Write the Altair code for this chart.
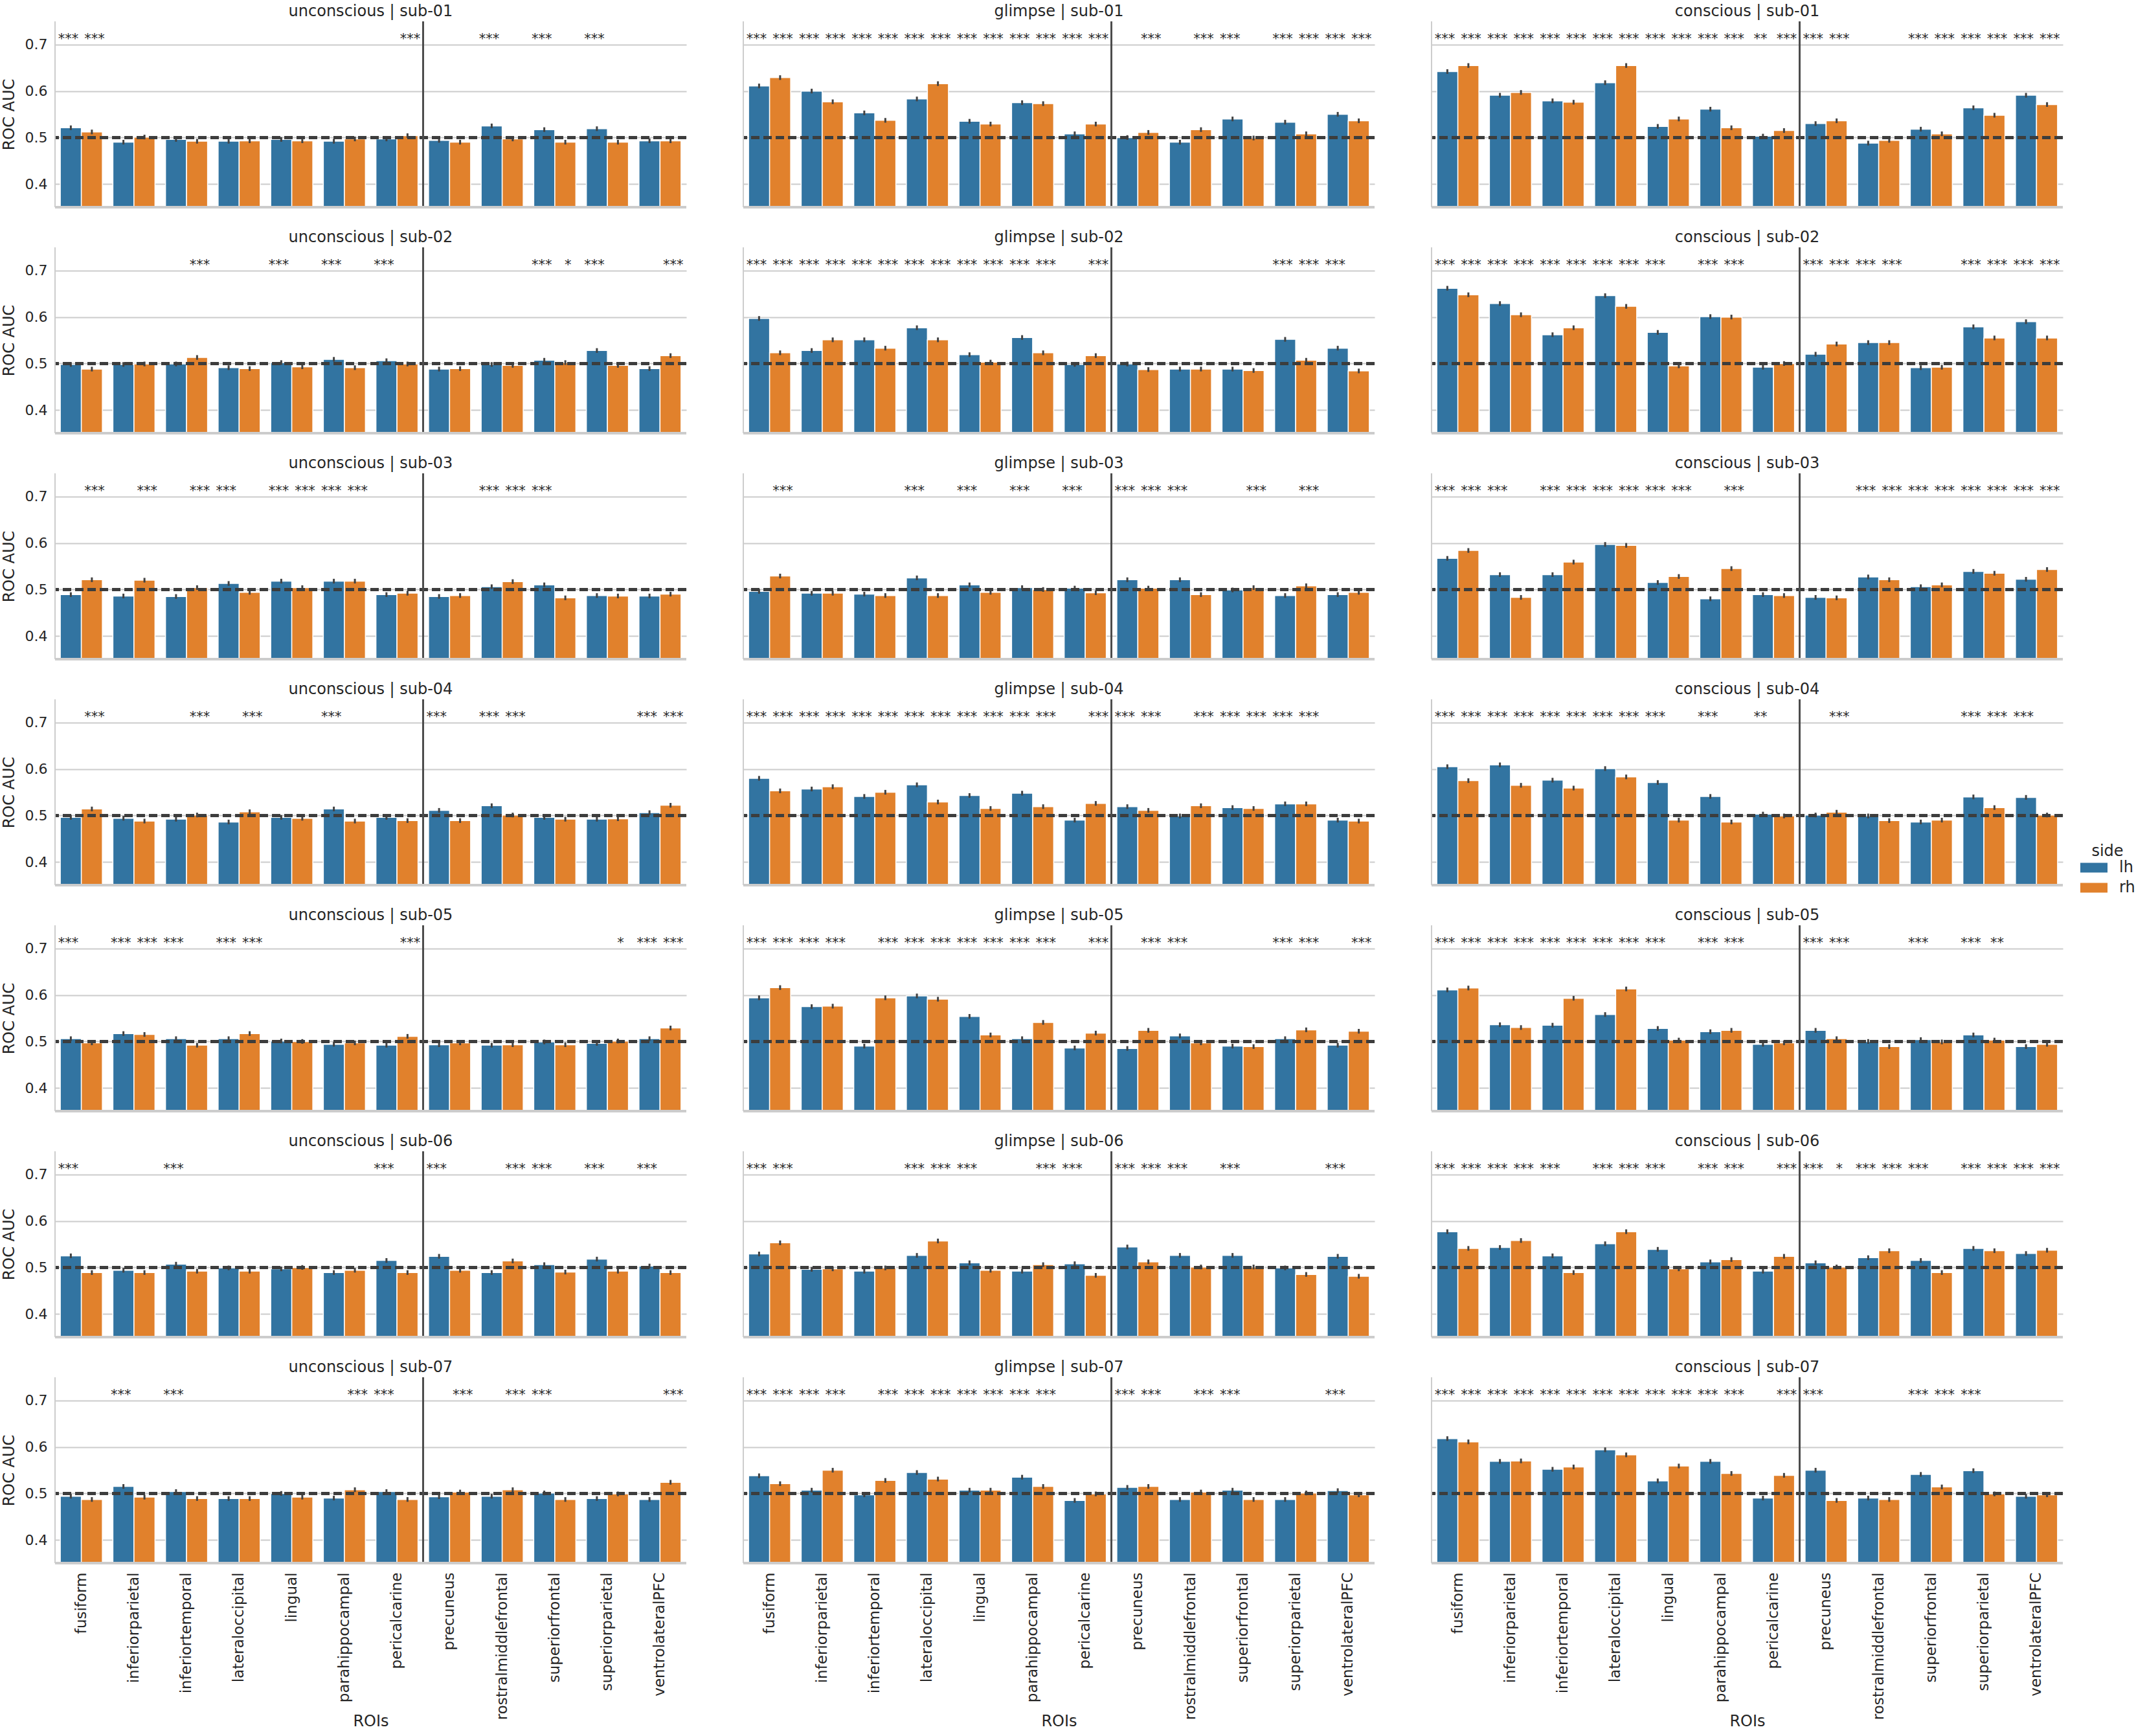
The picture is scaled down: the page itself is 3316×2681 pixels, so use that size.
import altair as alt
import pandas as pd

ROIS = ["fusiform", "inferiorparietal", "inferiortemporal", "lateraloccipital",
        "lingual", "parahippocampal", "pericalcarine", "precuneus",
        "rostralmiddlefrontal", "superiorfrontal", "superiorparietal",
        "ventrolateralPFC"]
CONDITIONS = ["unconscious", "glimpse", "conscious"]
SUBJECTS = ["sub-01", "sub-02", "sub-03", "sub-04", "sub-05", "sub-06", "sub-07"]
SIDES = ["lh", "rh"]
COLORS = ["#3274a1", "#e1812c"]
ERR = 0.005

# ROC AUC per subject (rows) and ROI (columns)
unconscious_lh = [
    [0.521, 0.490, 0.496, 0.492, 0.496, 0.492, 0.497, 0.494, 0.525, 0.517, 0.519, 0.493],
    [0.498, 0.498, 0.499, 0.491, 0.502, 0.509, 0.506, 0.488, 0.498, 0.507, 0.528, 0.489],
    [0.489, 0.486, 0.485, 0.513, 0.518, 0.518, 0.489, 0.485, 0.506, 0.510, 0.487, 0.486],
    [0.496, 0.494, 0.492, 0.486, 0.496, 0.514, 0.496, 0.511, 0.521, 0.496, 0.492, 0.506],
    [0.506, 0.517, 0.506, 0.506, 0.501, 0.494, 0.492, 0.493, 0.492, 0.499, 0.496, 0.506],
    [0.525, 0.494, 0.507, 0.499, 0.497, 0.489, 0.515, 0.524, 0.489, 0.506, 0.518, 0.503],
    [0.494, 0.515, 0.504, 0.489, 0.500, 0.490, 0.504, 0.493, 0.494, 0.501, 0.489, 0.487],
]
unconscious_rh = [
    [0.512, 0.501, 0.492, 0.493, 0.493, 0.497, 0.504, 0.490, 0.497, 0.490, 0.490, 0.493],
    [0.488, 0.499, 0.513, 0.489, 0.493, 0.491, 0.499, 0.489, 0.496, 0.502, 0.496, 0.517],
    [0.521, 0.520, 0.504, 0.494, 0.504, 0.518, 0.492, 0.487, 0.517, 0.482, 0.486, 0.490],
    [0.514, 0.488, 0.501, 0.508, 0.494, 0.488, 0.489, 0.489, 0.501, 0.492, 0.493, 0.522],
    [0.497, 0.515, 0.492, 0.517, 0.500, 0.497, 0.511, 0.497, 0.493, 0.493, 0.501, 0.529],
    [0.489, 0.489, 0.492, 0.492, 0.500, 0.494, 0.489, 0.494, 0.514, 0.490, 0.492, 0.489],
    [0.487, 0.492, 0.489, 0.489, 0.492, 0.508, 0.487, 0.503, 0.508, 0.487, 0.499, 0.524],
]
glimpse_lh = [
    [0.611, 0.600, 0.553, 0.583, 0.535, 0.575, 0.508, 0.500, 0.490, 0.540, 0.533, 0.550],
    [0.597, 0.528, 0.551, 0.577, 0.519, 0.556, 0.498, 0.499, 0.488, 0.488, 0.552, 0.533],
    [0.496, 0.492, 0.490, 0.525, 0.510, 0.504, 0.503, 0.521, 0.521, 0.499, 0.487, 0.489],
    [0.580, 0.557, 0.541, 0.566, 0.543, 0.548, 0.490, 0.519, 0.499, 0.517, 0.525, 0.490],
    [0.594, 0.575, 0.490, 0.598, 0.554, 0.506, 0.486, 0.485, 0.512, 0.490, 0.506, 0.492],
    [0.529, 0.496, 0.492, 0.526, 0.510, 0.492, 0.508, 0.544, 0.526, 0.526, 0.499, 0.524],
    [0.538, 0.507, 0.497, 0.545, 0.507, 0.535, 0.485, 0.513, 0.487, 0.507, 0.487, 0.506],
]
glimpse_rh = [
    [0.629, 0.577, 0.537, 0.616, 0.529, 0.573, 0.529, 0.511, 0.517, 0.499, 0.508, 0.536],
    [0.523, 0.551, 0.533, 0.551, 0.503, 0.523, 0.517, 0.487, 0.488, 0.485, 0.507, 0.484],
    [0.529, 0.492, 0.487, 0.487, 0.494, 0.500, 0.493, 0.503, 0.489, 0.504, 0.508, 0.494],
    [0.553, 0.562, 0.550, 0.529, 0.515, 0.519, 0.526, 0.511, 0.521, 0.515, 0.525, 0.488],
    [0.616, 0.576, 0.594, 0.591, 0.514, 0.541, 0.518, 0.524, 0.497, 0.489, 0.525, 0.522],
    [0.553, 0.497, 0.499, 0.557, 0.494, 0.506, 0.483, 0.512, 0.501, 0.501, 0.485, 0.481],
    [0.521, 0.550, 0.528, 0.531, 0.507, 0.515, 0.499, 0.515, 0.503, 0.487, 0.501, 0.497],
]
conscious_lh = [
    [0.642, 0.591, 0.579, 0.618, 0.524, 0.561, 0.503, 0.530, 0.488, 0.518, 0.564, 0.591],
    [0.662, 0.629, 0.562, 0.646, 0.567, 0.601, 0.492, 0.520, 0.545, 0.491, 0.579, 0.590],
    [0.567, 0.532, 0.532, 0.597, 0.515, 0.480, 0.489, 0.483, 0.527, 0.506, 0.539, 0.522],
    [0.605, 0.609, 0.576, 0.601, 0.571, 0.541, 0.503, 0.501, 0.499, 0.486, 0.540, 0.539],
    [0.611, 0.536, 0.535, 0.558, 0.528, 0.521, 0.494, 0.524, 0.500, 0.504, 0.514, 0.489],
    [0.577, 0.543, 0.525, 0.551, 0.539, 0.512, 0.492, 0.510, 0.521, 0.515, 0.541, 0.530],
    [0.618, 0.569, 0.552, 0.594, 0.527, 0.569, 0.490, 0.550, 0.490, 0.541, 0.549, 0.494],
]
conscious_rh = [
    [0.655, 0.597, 0.576, 0.655, 0.540, 0.521, 0.515, 0.536, 0.494, 0.508, 0.548, 0.571],
    [0.648, 0.605, 0.577, 0.623, 0.495, 0.600, 0.500, 0.542, 0.545, 0.492, 0.555, 0.555],
    [0.584, 0.483, 0.559, 0.595, 0.528, 0.545, 0.487, 0.482, 0.521, 0.510, 0.535, 0.543],
    [0.575, 0.565, 0.559, 0.583, 0.490, 0.486, 0.499, 0.507, 0.489, 0.490, 0.517, 0.501],
    [0.615, 0.530, 0.593, 0.613, 0.503, 0.524, 0.497, 0.506, 0.489, 0.499, 0.503, 0.494],
    [0.541, 0.558, 0.489, 0.577, 0.497, 0.517, 0.524, 0.501, 0.536, 0.489, 0.536, 0.537],
    [0.611, 0.570, 0.557, 0.583, 0.559, 0.543, 0.539, 0.485, 0.487, 0.514, 0.499, 0.497],
]

# significance labels
S, D, O, N = "***", "**", "*", ""
unconscious_lh_stars = [
    [S, N, N, N, N, N, N, N, S, S, S, N],
    [N, N, N, N, S, S, S, N, N, S, S, N],
    [N, N, N, S, S, S, N, N, S, S, N, N],
    [N, N, N, N, N, S, N, S, S, N, N, S],
    [S, S, S, S, N, N, N, N, N, N, N, S],
    [S, N, S, N, N, N, S, S, N, S, S, S],
    [N, S, S, N, N, N, S, N, N, S, N, N],
]
unconscious_rh_stars = [
    [S, N, N, N, N, N, S, N, N, N, N, N],
    [N, N, S, N, N, N, N, N, N, O, N, S],
    [S, S, S, N, S, S, N, N, S, N, N, N],
    [S, N, S, S, N, N, N, N, S, N, N, S],
    [N, S, N, S, N, N, S, N, N, N, O, S],
    [N, N, N, N, N, N, N, N, S, N, N, N],
    [N, N, N, N, N, S, N, S, S, N, N, S],
]
glimpse_lh_stars = [
    [S, S, S, S, S, S, S, N, N, S, S, S],
    [S, S, S, S, S, S, N, N, N, N, S, S],
    [N, N, N, S, S, S, S, S, S, N, N, N],
    [S, S, S, S, S, S, N, S, N, S, S, N],
    [S, S, N, S, S, S, N, N, S, N, S, N],
    [S, N, N, S, S, N, S, S, S, S, N, S],
    [S, S, N, S, S, S, N, S, N, S, N, S],
]
glimpse_rh_stars = [
    [S, S, S, S, S, S, S, S, S, N, S, S],
    [S, S, S, S, S, S, S, N, N, N, S, N],
    [S, N, N, N, N, N, N, S, N, S, S, N],
    [S, S, S, S, S, S, S, S, S, S, S, N],
    [S, S, S, S, S, S, S, S, N, N, S, S],
    [S, N, N, S, N, S, N, S, N, N, N, N],
    [S, S, S, S, S, S, N, S, S, N, N, N],
]
conscious_lh_stars = [
    [S, S, S, S, S, S, D, S, N, S, S, S],
    [S, S, S, S, S, S, N, S, S, N, S, S],
    [S, S, S, S, S, N, N, N, S, S, S, S],
    [S, S, S, S, S, S, D, N, N, N, S, S],
    [S, S, S, S, S, S, N, S, N, S, S, N],
    [S, S, S, S, S, S, N, S, S, S, S, S],
    [S, S, S, S, S, S, N, S, N, S, S, N],
]
conscious_rh_stars = [
    [S, S, S, S, S, S, S, S, N, S, S, S],
    [S, S, S, S, N, S, N, S, S, N, S, S],
    [S, N, S, S, S, S, N, N, S, S, S, S],
    [S, S, S, S, N, N, N, S, N, N, S, N],
    [S, S, S, S, N, S, N, S, N, N, D, N],
    [S, S, N, S, N, S, S, O, S, N, S, S],
    [S, S, S, S, S, S, S, N, N, S, N, N],
]

VALUES = {
    ("unconscious", "lh"): unconscious_lh, ("unconscious", "rh"): unconscious_rh,
    ("glimpse", "lh"): glimpse_lh, ("glimpse", "rh"): glimpse_rh,
    ("conscious", "lh"): conscious_lh, ("conscious", "rh"): conscious_rh,
}
STARS = {
    ("unconscious", "lh"): unconscious_lh_stars, ("unconscious", "rh"): unconscious_rh_stars,
    ("glimpse", "lh"): glimpse_lh_stars, ("glimpse", "rh"): glimpse_rh_stars,
    ("conscious", "lh"): conscious_lh_stars, ("conscious", "rh"): conscious_rh_stars,
}

rows = []
for cond in CONDITIONS:
    for si, sub in enumerate(SUBJECTS):
        for side in SIDES:
            vals = VALUES[(cond, side)][si]
            sts = STARS[(cond, side)][si]
            for ri, roi in enumerate(ROIS):
                rows.append({
                    "panel": f"{cond} | {sub}", "roi": roi, "side": side,
                    "auc": vals[ri], "lo": vals[ri] - ERR, "hi": vals[ri] + ERR,
                    "stars": sts[ri],
                })
df = pd.DataFrame(rows)
PANELS = [f"{c} | {s}" for s in SUBJECTS for c in CONDITIONS]

TXT = "#262626"
FONT = "DejaVu Sans"
PANEL_W = 975
PANEL_H = 287

x_enc = alt.X(
    "roi:N", sort=ROIS,
    scale=alt.Scale(domain=ROIS, paddingInner=0.2, paddingOuter=0.1),
    axis=alt.Axis(labelAngle=-90, labelFontSize=23, labelFont=FONT, labelColor=TXT,
                  labelPadding=12, labelLimit=400, ticks=False, domain=False,
                  grid=False, title="ROIs", titleFontSize=24, titleFont=FONT,
                  titleFontWeight="normal", titleColor=TXT, titlePadding=30),
)
xo = alt.XOffset("side:N", sort=SIDES,
                 scale=alt.Scale(domain=SIDES, paddingInner=0, paddingOuter=0))
yscale = alt.Scale(domain=[0.35, 0.75], nice=False, zero=False)
y_axis = alt.Axis(values=[0.4, 0.5, 0.6, 0.7], format=".1f", grid=True,
                  gridColor="#cccccc", gridWidth=2, domain=False, ticks=False,
                  labelFontSize=22, labelFont=FONT, labelPadding=10, labelColor=TXT,
                  title="ROC AUC", titleFontSize=24, titleFont=FONT,
                  titleFontWeight="normal", titleColor=TXT, titlePadding=12)

color = alt.Color(
    "side:N",
    scale=alt.Scale(domain=SIDES, range=COLORS),
    legend=alt.Legend(title="side", orient="none", legendX=3128, legendY=1270,
                      symbolType="M-1,-0.36L1,-0.36L1,0.36L-1,0.36Z",
                      symbolSize=1764, symbolStrokeWidth=0,
                      labelFontSize=24, labelFont=FONT, labelColor=TXT,
                      titleFontSize=24, titleFont=FONT,
                      titleFontWeight="normal", titleColor=TXT,
                      titleAnchor="middle", clipHeight=26, rowPadding=5,
                      titlePadding=0, labelOffset=18),
)

base = alt.Chart()

bars = base.mark_bar(clip=True, stroke="white", strokeWidth=1.5).encode(
    x=x_enc, xOffset=xo,
    y=alt.Y("auc:Q", scale=yscale, axis=y_axis, title="ROC AUC"),
    color=color,
)
errs = base.mark_rule(clip=True, color="#424242", strokeWidth=3).encode(
    x=x_enc, xOffset=xo,
    y=alt.Y("lo:Q", title="ROC AUC"), y2="hi:Q",
)
dashed = base.mark_rule(strokeDash=[13, 6], color="#3d3d3d", strokeWidth=3.5).encode(
    y=alt.datum(0.5)
)
# boundary between pericalcarine and precuneus (band end + half the inner gap)
vline = base.mark_rule(color="#4d4d4d", strokeWidth=2,
                       xOffset=PANEL_W / 12 * 0.1).encode(
    x=alt.XDatum("pericalcarine", bandPosition=1)
)
stars_lh = base.mark_text(fontSize=21, font=FONT, color=TXT, baseline="alphabetic",
                          dx=-4).encode(
    x=x_enc, xOffset=xo, y=alt.datum(0.703), text="stars:N"
).transform_filter(alt.datum.side == "lh")
stars_rh = base.mark_text(fontSize=21, font=FONT, color=TXT, baseline="alphabetic",
                          dx=4).encode(
    x=x_enc, xOffset=xo, y=alt.datum(0.703), text="stars:N"
).transform_filter(alt.datum.side == "rh")
bottom = base.mark_rule(color="#cccccc", strokeWidth=3).encode(y=alt.datum(0.35))
left = base.mark_rule(color="#cccccc", strokeWidth=1.5).encode(x=alt.value(0))

layered = alt.layer(bars, errs, dashed, vline, stars_lh, stars_rh, bottom, left,
                    data=df).properties(width=PANEL_W, height=PANEL_H)

chart = layered.facet(
    facet=alt.Facet("panel:N", sort=PANELS, title=None,
                    header=alt.Header(labelFontSize=24, labelColor=TXT, labelFont=FONT,
                                      labelPadding=2)),
    columns=3,
    spacing={"row": 33, "column": 84},
).properties(
    padding={"left": 2, "top": 6, "right": 4, "bottom": 2}
).configure(
    font=FONT, background="white"
).configure_view(strokeWidth=0)

chart.save("out.html", embed_options={"renderer": "svg", "actions": False})
